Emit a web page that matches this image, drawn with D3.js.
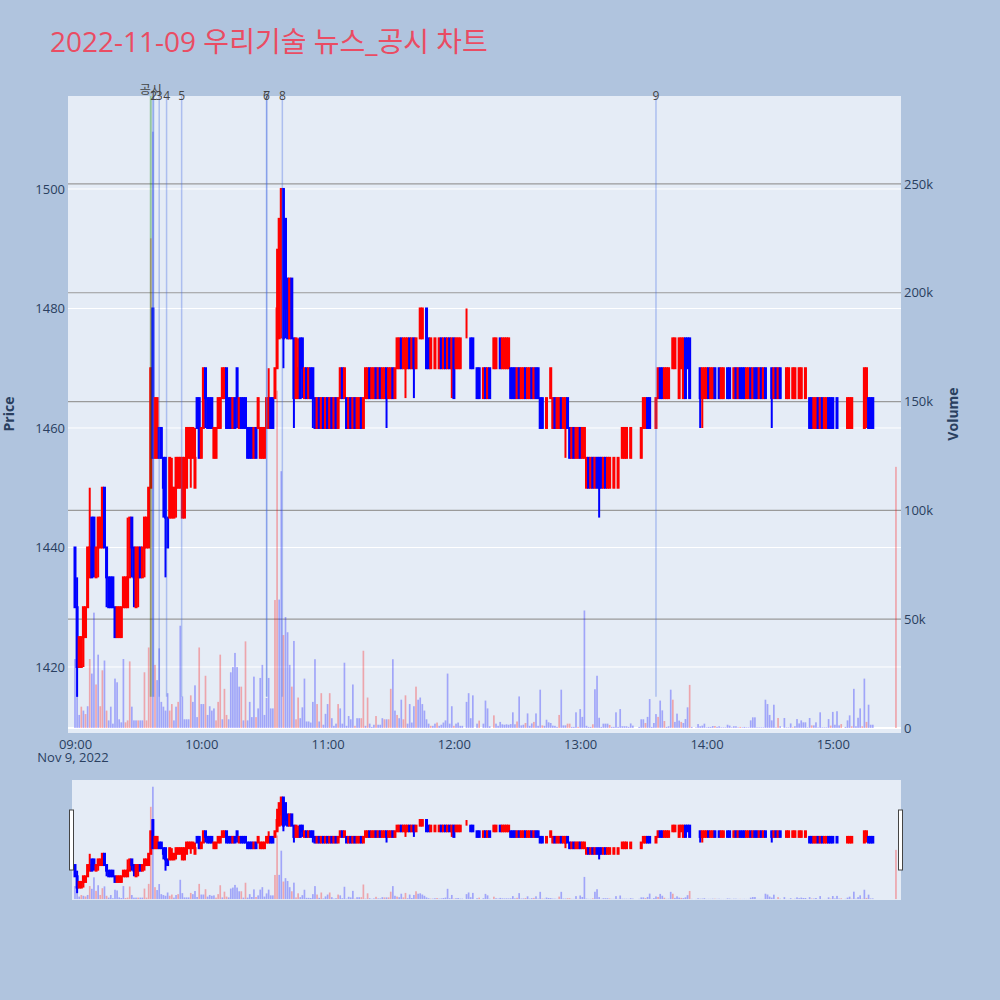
<!DOCTYPE html>
<html>
<head>
<meta charset="utf-8">
<script src="https://cdn.jsdelivr.net/npm/d3@7"></script>
<style>
  body { margin: 0; background: #b0c4de; }
  svg { display: block; font-family: "Open Sans", "Noto Sans CJK KR", sans-serif; }
</style>
</head>
<body>
<svg id="chart" width="1000" height="1000"></svg>
<script>
// one bar per minute from 09:00 (index 0) to 15:30 (index 390), null = no trade
const opens = [
  1440,1430,1420,1420,1425,1425,1430,1435,1445,1445, 1435,1440,1440,1440,1450,1440,1435,1435,1435,1430,
  1425,1425,1425,1430,1430,1430,1435,1445,1440,1430, 1435,1440,1435,1440,1440,1440,1450,1480,1455,1455,
  1460,1460,1455,1455,1445,1445,1445,1445,1450,1450, 1450,1445,1445,1450,1455,1455,1455,1450,1465,1465,
  1455,1460,1470,1465,1465,1465,1455,1455,1460,1460, 1465,1465,1470,1465,1465,1460,1465,1470,1460,1465,
  1465,1465,1460,1460,1460,1455,1460,1460,1455,1455, 1455,1460,1460,1465,1465,1465,1470,1475,1485,1500,
  1495,1485,1475,1485,1475,1465,1465,1475,1475,1465, 1470,1465,1470,1470,1465,1460,1465,1460,1465,1460,
  1465,1460,1465,1460,1465,1460,1465,1470,1465,1465, 1460,1465,1460,1465,1460,1460,1465,1460,1465,1465,
  1470,1465,1465,1470,1465,1470,1465,1465,1470,1465, 1465,1470,1465,1470,1470,1475,1470,1470,1470,1475,
  1470,1475,1470,1475,1475,1475,1480,1480,1475,1470, 1475,1470,1475,1470,1475,1470,1475,1470,1475,1470,
  1475,1470,1470,1470,1475,null,1475,1475,1475,1475, null,1470,1470,null,1465,1470,1465,1470,null,1470,
  1470,1470,1475,1470,1470,1470,1470,1470,1470,1470, 1465,1470,1465,1465,1470,1465,1465,1470,1465,1470,
  1470,1465,1465,1465,1460,1465,1465,1460,1465,1460, 1460,1465,1460,1460,1465,1460,1455,1460,1455,1455,
  1460,1455,1455,1450,1455,1450,1455,1450,1455,1455, 1455,1450,1455,1450,1450,1455,1450,1455,1450,1455,
  1455,1455,1455,1460,1455,1460,1460,1460,1460,1455, 1460,1460,1465,1465,1465,1465,1460,1465,1470,1470,
  1465,1465,1465,1470,1470,1470,1475,1465,1470,1465, 1475,1475,1475,1470,1470,1470,1470,1470,1465,1465,
  1465,1470,1465,1465,1470,1470,1470,1465,1465,1470, 1470,1470,1465,1465,1470,1465,1470,1470,1470,1465,
  1465,1470,1465,1470,1470,1465,1470,1465,1470,1465, 1465,1470,1465,1470,1465,1470,null,1470,1465,1465,
  1465,1465,1465,1465,1465,1465,1465,1465,1465,1465, 1465,1460,1460,1465,1460,1465,1460,1460,1465,1465,
  1465,1460,1465,1465,1465,null,1465,1460,1460,1460, 1465,1465,1465,1465,1465,1460,1465,1465,1465,1465,
  null,null,null,null,null,null,null,null,null,null, 1470
];
const highs = [
  1440,1435,1425,1425,1430,1430,1440,1450,1445,1445, 1440,1445,1445,1450,1450,1440,1435,1435,1435,1430,
  1430,1430,1430,1435,1435,1445,1445,1445,1440,1440, 1440,1440,1440,1445,1445,1450,1470,1480,1465,1465,
  1460,1460,1455,1455,1445,1455,1455,1450,1455,1455, 1455,1455,1455,1460,1460,1460,1460,1460,1465,1465,
  1460,1470,1470,1465,1465,1465,1460,1460,1465,1465, 1470,1470,1470,1465,1465,1465,1465,1470,1465,1465,
  1465,1465,1460,1460,1460,1460,1460,1465,1460,1460, 1460,1465,1470,1465,1465,1470,1490,1495,1500,1500,
  1495,1485,1485,1485,1475,1475,1475,1475,1475,1470, 1470,1470,1470,1470,1465,1465,1465,1465,1465,1465,
  1465,1465,1465,1465,1465,1465,1470,1470,1470,1465, 1465,1465,1465,1465,1465,1465,1465,1465,1470,1470,
  1470,1470,1470,1470,1470,1470,1470,1470,1470,1470, 1470,1470,1470,1475,1475,1475,1475,1475,1475,1475,
  1475,1475,1475,1475,1480,1480,1480,1480,1475,1475, 1475,1475,1475,1475,1475,1475,1475,1475,1475,1475,
  1475,1475,1475,1475,1475,null,1480,1475,1475,1475, null,1470,1470,null,1470,1470,1470,1470,null,1475,
  1475,1470,1475,1475,1475,1475,1475,1470,1470,1470, 1470,1470,1470,1470,1470,1470,1470,1470,1470,1470,
  1470,1465,1465,1465,1465,1465,1470,1465,1465,1465, 1465,1465,1465,1465,1465,1460,1460,1460,1460,1460,
  1460,1460,1460,1455,1455,1455,1455,1455,1455,1455, 1455,1455,1455,1455,1455,1455,1455,1455,1455,1455,
  1460,1460,1460,1460,1460,1460,1460,1460,1460,1460, 1465,1465,1465,1465,1465,1465,1465,1470,1470,1470,
  1470,1470,1470,1470,1475,1475,1475,1475,1475,1475, 1475,1475,1475,1470,1470,1470,1470,1470,1470,1470,
  1470,1470,1470,1470,1470,1470,1470,1470,1470,1470, 1470,1470,1465,1470,1470,1470,1470,1470,1470,1470,
  1470,1470,1470,1470,1470,1470,1470,1470,1470,1465, 1465,1470,1470,1470,1470,1470,null,1470,1470,1470,
  1465,1470,1470,1465,1470,1470,1465,1470,1465,1465, 1465,1465,1465,1465,1465,1465,1465,1465,1465,1465,
  1465,1460,1465,1465,1465,null,1465,1465,1465,1465, 1465,1465,1465,1465,1465,1470,1470,1465,1465,1465,
  null,null,null,null,null,null,null,null,null,null, 1470
];
const lows = [
  1430,1415,1420,1420,1420,1425,1430,1435,1435,1435, 1435,1435,1440,1440,1440,1430,1430,1430,1430,1425,
  1425,1425,1425,1430,1430,1430,1435,1435,1430,1430, 1430,1435,1435,1435,1440,1440,1450,1455,1455,1455,
  1455,1455,1445,1435,1440,1445,1445,1445,1445,1450, 1450,1445,1445,1450,1455,1450,1455,1450,1460,1455,
  1455,1460,1460,1460,1460,1460,1455,1455,1460,1460, 1465,1465,1460,1460,1460,1460,1460,1460,1460,1460,
  1460,1460,1455,1455,1455,1455,1455,1460,1455,1455, 1455,1460,1460,1460,1460,1465,1470,1475,1475,1470,
  1475,1475,1475,1475,1460,1465,1465,1465,1465,1465, 1465,1465,1465,1460,1460,1460,1460,1460,1460,1460,
  1460,1460,1460,1460,1460,1460,1465,1465,1465,1460, 1460,1460,1460,1460,1460,1460,1460,1460,1465,1465,
  1465,1465,1465,1465,1465,1465,1465,1465,1460,1465, 1465,1465,1465,1470,1470,1470,1470,1465,1470,1470,
  1470,1465,1470,1475,1475,1475,1480,1470,1470,1470, 1475,1470,1475,1470,1470,1470,1470,1470,1470,1465,
  1465,1470,1470,1470,1475,null,1475,1475,1470,1470, null,1465,1465,null,1465,1465,1465,1465,null,1470,
  1470,1470,1470,1470,1470,1470,1470,1465,1465,1465, 1465,1465,1465,1465,1465,1465,1465,1465,1465,1465,
  1465,1460,1460,1465,1460,1465,1465,1460,1460,1460, 1460,1460,1460,1455,1460,1455,1455,1455,1455,1455,
  1455,1455,1455,1450,1450,1450,1450,1450,1450,1445, 1450,1450,1450,1450,1450,1455,1450,1455,1450,1455,
  1455,1455,1455,1460,1455,1460,1460,1460,1460,1455, 1460,1460,1460,1460,1465,1465,1460,1465,1465,1465,
  1465,1465,1465,1470,1470,1470,1475,1465,1470,1465, 1465,1470,1465,1470,1470,1470,1470,1460,1460,1465,
  1465,1465,1465,1465,1465,1470,1465,1465,1465,1470, 1465,1465,1465,1465,1465,1465,1465,1465,1465,1465,
  1465,1465,1465,1465,1465,1465,1465,1465,1465,1465, 1465,1460,1465,1465,1465,1465,null,1470,1465,1465,
  1465,1465,1465,1465,1465,1465,1465,1465,1465,1460, 1460,1460,1460,1460,1460,1460,1460,1460,1460,1460,
  1460,1460,1460,1465,1465,null,1465,1460,1460,1460, 1465,1465,1465,1465,1465,1460,1460,1460,1460,1460,
  null,null,null,null,null,null,null,null,null,null, 1470
];
const closes = [
  1430,1420,1425,1425,1430,1430,1440,1440,1435,1440, 1440,1445,1445,1450,1440,1435,1430,1430,1430,1425,
  1430,1430,1430,1435,1435,1435,1445,1440,1435,1440, 1440,1435,1440,1445,1445,1450,1470,1455,1465,1465,
  1455,1455,1450,1445,1440,1455,1450,1450,1455,1455, 1455,1455,1455,1460,1460,1460,1460,1455,1460,1455,
  1460,1470,1465,1460,1460,1460,1460,1460,1465,1465, 1470,1470,1460,1460,1460,1465,1460,1465,1465,1460,
  1460,1460,1455,1455,1455,1460,1455,1465,1460,1460, 1460,1465,1465,1460,1460,1470,1480,1495,1500,1475,
  1480,1475,1485,1475,1465,1475,1470,1465,1470,1470, 1465,1470,1465,1465,1460,1465,1460,1465,1460,1465,
  1460,1465,1460,1465,1460,1465,1470,1465,1470,1460, 1465,1460,1465,1460,1465,1465,1460,1465,1470,1470,
  1465,1470,1470,1465,1470,1465,1470,1470,1465,1470, 1470,1465,1470,1475,1475,1470,1475,1475,1475,1470,
  1475,1470,1475,1475,1480,1480,1480,1470,1470,1475, 1475,1475,1475,1475,1470,1475,1470,1475,1470,1475,
  1465,1475,1475,1475,1475,null,1475,1475,1470,1470, null,1465,1465,null,1470,1465,1470,1465,null,1475,
  1475,1470,1470,1475,1475,1475,1475,1465,1465,1465, 1470,1465,1470,1470,1465,1470,1470,1465,1470,1465,
  1465,1460,1460,1465,1465,1465,1470,1465,1460,1465, 1465,1460,1465,1465,1460,1455,1460,1455,1460,1460,
  1455,1460,1460,1455,1450,1455,1450,1455,1450,1450, 1450,1455,1450,1455,1455,1455,1455,1455,1455,1455,
  1460,1460,1460,1460,1460,1460,1460,1460,1460,1460, 1465,1465,1460,1460,1465,1465,1465,1470,1465,1465,
  1470,1470,1470,1470,1475,1475,1475,1475,1475,1475, 1465,1470,1465,1470,1470,1470,1470,1465,1470,1470,
  1470,1465,1470,1470,1465,1470,1465,1470,1470,1470, 1465,1465,1465,1470,1465,1470,1465,1465,1465,1470,
  1470,1465,1470,1465,1465,1470,1465,1470,1465,1465, 1465,1465,1470,1465,1470,1465,null,1470,1470,1470,
  1465,1470,1470,1465,1470,1470,1465,1470,1465,1460, 1460,1465,1465,1460,1465,1460,1465,1465,1460,1460,
  1460,1460,1460,1465,1465,null,1465,1465,1465,1465, 1465,1465,1465,1465,1465,1470,1470,1460,1460,1460,
  null,null,null,null,null,null,null,null,null,null, 1470
];
// volume per minute, thousands of shares
const volumes = [
  31.7,39,6,9.8,8,6.4,10,31.7,25,53, 20,33.7,10,26.5,31,8,3.5,9.8,2,22.7,
  21,4,2.6,31.7,2.6,3.5,30.6,9.8,3.5,3.5, 3.5,3.5,3.5,25.6,3.5,37,225,274,29,22,
  36.6,12,9.8,8,16,8,11,3.5,9.8,12, 47,14.5,4,4,4,15,12,19.6,5,37,
  11,11,24,6,10,8,9,3.5,12,33.7, 4,18,6,4,25.6,28,34.5,28,19,19,
  3.5,39.8,3.5,12,5,23.6,5,9,23,29, 6,13.8,23,9,9,58.8,155,59,118,42.7,
  51,44,29,19,40,4,14,4.5,9.5,22.7, 3,3,2.5,12,31.6,11,3,16,1.5,6.5,
  11,16,4.5,1,2,11,9,2,30,1, 5.5,4,20,1,4.5,4.5,4.5,35.5,1,14,
  2,0.5,1.5,5.5,1.5,1.5,4.5,4,4,4, 18,31.6,8,6,4.5,13,4,15,2,11,
  2.5,10,19,13,14,11,8,4,2,1, 1,2,2.5,1,1.5,2.5,3.5,25,2,10,
  1,2,2.5,1,1,0,12,16,4.5,15, 0,2,3.4,0,2,12.6,9,0.8,0,5.8,
  2,1,2.8,1.7,1.5,1.7,1.5,1.8,7.2,1.7, 3,14.5,1.2,1.5,2.3,6.7,1,2.1,2.8,6.7,
  1,17.6,1.2,1,3.8,2.6,2.3,1.1,1,0.5, 6,17.6,1.2,1.2,2,2,0.5,0.5,7.2,0.5,
  8.7,5.1,54,1,0.5,0.5,1.7,17.8,24,4.7, 0.5,2,2,2,1.4,0.5,0.5,7.2,0.5,8.7,
  0.8,0.8,0.8,0.5,2.1,1.1,0,0,0.5,4, 4,2.3,5.1,13.3,0.5,2.3,6.4,5.1,12.6,8.1,
  3.2,0.5,0.8,17.6,13,2.8,6.6,3.4,2.8,2.3, 4.1,9.5,19.8,0.5,0,0.3,1.8,0.8,1.1,2,
  0.3,0.5,0.5,0.9,0.9,0.5,0.8,0.3,0.3,0.3, 1.5,1.1,0.3,0.8,0.8,0.3,0.5,0.3,0.5,0.3,
  0.3,3.5,4.9,4.9,0.3,0.3,0.3,0.3,13,11, 6,3.5,10.7,0.3,4.6,0.8,0,4.6,0.3,0.3,
  2.1,0.3,0.8,4.1,2.1,3.5,2.6,2.6,0.3,4.6, 1.2,1.2,2.6,0.3,7.2,0.3,0.3,0.3,4.1,1.1,
  7.4,1.5,7.7,1.2,1.8,0,0.5,3.5,5.8,0.8, 18,0.8,4.7,9,0.8,22.7,2.8,10.7,1.5,1.5,
  0,0,0,0,0,0,0,0,0,0, 120
];
// minutes whose volume bar is drawn red
const redVolumeMinutes = [3,5,7,10,12,13,15,24,25,26,30,33,34,35,36,38,45,46,49,55,59,62,67,68,69,71,72,79,81,86,
  95,96,99,103,105,106,115,117,121,125,133,136,137,139,143,147,149,150,153,156,157,162,169,172,180,192,199,
  210,214,218,222,230,234,235,239,246,254,271,277,280,284,288,292,304,316,334,341,350,359,364,369,374,376,390];

const disclosureTimes = ["09:36:00"];
const newsLabels = ["1","2","3","4","5","6","7","8","9"];
const newsTimes = ["09:37:00","09:37:20","09:40:00","09:43:30","09:50:40","10:31:00","10:31:05","10:38:30","13:36:00"];

const priceTicks = [1420, 1440, 1460, 1480, 1500];
const volumeTicks = [0, 50000, 100000, 150000, 200000, 250000];
const volumeTickLabels = ["0", "50k", "100k", "150k", "200k", "250k"];
const timeTicks = ["09:00","10:00","11:00","12:00","13:00","14:00","15:00"];

const plot = {left: 68, right: 901, top: 96, bottom: 733},
slider = {left: 72, right: 901, top: 780, bottom: 900},
upColor = "#ff0000",
downColor = "#0000ff",
fontColor = "#2a3f5f";

const parseClock = s => {
  let p = s.split(":").map(Number);
  return new Date(2022, 10, 9, p[0], p[1], p[2] || 0);
};
const dayStart = parseClock("09:00");
const minuteDate = m => new Date(dayStart.getTime() + m * 60000);

let bars = opens.map((o, i) => ({
  t: minuteDate(i), o: o, h: highs[i], l: lows[i], c: closes[i],
  v: volumes[i] * 1000, redVol: redVolumeMinutes.includes(i)
}));

// flat bars take their colour from the move against the previous close
let prevClose = null, prevUp = true;
bars.forEach(d => {
  if (d.o == null) return;
  let up;
  if (d.c > d.o) up = true;
  else if (d.c < d.o) up = false;
  else if (prevClose != null && d.c !== prevClose) up = d.c > prevClose;
  else up = prevUp;
  d.up = up;
  prevUp = up;
  prevClose = d.c;
});
let candles = bars.filter(d => d.o != null);

const x = d3.scaleTime()
  .domain([minuteDate(-3.325), minuteDate(392.4)])
  .range([plot.left, plot.right]);
const yPrice = d3.scaleLinear().domain([1408.95, 1515.56]).range([plot.bottom, plot.top]);
const yVol = d3.scaleLinear().domain([-2300, 290400]).range([plot.bottom, plot.top]);
const yPriceS = yPrice.copy().range([slider.bottom, slider.top]);
const yVolS = yVol.copy().range([slider.bottom, slider.top]);

const svg = d3.select("#chart");

svg.append("rect").attr("width", 1000).attr("height", 1000).attr("fill", "#b0c4de");

svg.append("text")
  .attr("x", 50).attr("y", 52)
  .attr("fill", "#ea4c63")
  .attr("font-size", 28)
  .text("2022-11-09 우리기술 뉴스_공시 차트");

svg.append("rect")
  .attr("x", plot.left).attr("y", plot.top)
  .attr("width", plot.right - plot.left).attr("height", plot.bottom - plot.top)
  .attr("fill", "#e5ecf6");

svg.append("clipPath").attr("id", "plotClip")
  .append("rect")
  .attr("x", plot.left).attr("y", plot.top)
  .attr("width", plot.right - plot.left).attr("height", plot.bottom - plot.top);

// grid lines
svg.append("g").selectAll("line")
  .data(priceTicks)
  .join("line")
  .attr("x1", plot.left).attr("x2", plot.right)
  .attr("y1", d => yPrice(d)).attr("y2", d => yPrice(d))
  .attr("stroke", "#ffffff").attr("stroke-width", 1);

svg.append("g").selectAll("line")
  .data(volumeTicks.slice(1))
  .join("line")
  .attr("x1", plot.left).attr("x2", plot.right)
  .attr("y1", d => yVol(d)).attr("y2", d => yVol(d))
  .attr("stroke", "#9a9a9a").attr("stroke-width", 1.2);

svg.append("line")
  .attr("x1", plot.left).attr("x2", plot.right)
  .attr("y1", yVol(0)).attr("y2", yVol(0))
  .attr("stroke", "#ffffff").attr("stroke-width", 2);

function drawVolume(g, yv) {
  g.selectAll("rect")
    .data(bars.filter(d => d.v > 0))
    .join("rect")
    .attr("x", d => x(d.t) - 0.84)
    .attr("width", 1.68)
    .attr("y", d => yv(d.v))
    .attr("height", d => yv(0) - yv(d.v))
    .attr("fill", d => d.redVol ? upColor : downColor)
    .attr("fill-opacity", 0.3);
}

function drawCandles(g, yp) {
  let c = g.selectAll("g")
    .data(candles)
    .join("g")
    .attr("stroke", d => d.up ? upColor : downColor)
    .attr("fill", d => d.up ? upColor : downColor)
    .attr("stroke-width", 2);

  c.append("line")
    .attr("x1", d => x(d.t)).attr("x2", d => x(d.t))
    .attr("y1", d => yp(d.h)).attr("y2", d => yp(d.l));

  c.append("rect")
    .attr("x", d => x(d.t) - 0.5)
    .attr("width", 1)
    .attr("y", d => yp(Math.max(d.o, d.c)))
    .attr("height", d => Math.abs(yp(d.o) - yp(d.c)));
}

let main = svg.append("g").attr("clip-path", "url(#plotClip)");
drawVolume(main.append("g"), yVol);
drawCandles(main.append("g"), yPrice);

// news / disclosure markers
let lineBottom = yPrice(1415);

svg.append("g").selectAll("line")
  .data(disclosureTimes)
  .join("line")
  .attr("x1", d => x(parseClock(d))).attr("x2", d => x(parseClock(d)))
  .attr("y1", plot.top).attr("y2", lineBottom)
  .attr("stroke", "green").attr("stroke-opacity", 0.35).attr("stroke-width", 2);

svg.append("g").selectAll("line")
  .data(newsTimes)
  .join("line")
  .attr("x1", d => x(parseClock(d))).attr("x2", d => x(parseClock(d)))
  .attr("y1", plot.top).attr("y2", lineBottom)
  .attr("stroke", "royalblue").attr("stroke-opacity", 0.35).attr("stroke-width", 1.5);

svg.append("g").selectAll("text")
  .data(newsTimes)
  .join("text")
  .attr("x", d => x(parseClock(d)))
  .attr("y", 100)
  .attr("text-anchor", "middle")
  .attr("font-size", 12)
  .attr("fill", "#444")
  .text((d, i) => newsLabels[i]);

svg.append("text")
  .attr("x", x(parseClock(disclosureTimes[0])))
  .attr("y", 94)
  .attr("text-anchor", "middle")
  .attr("font-size", 12)
  .attr("fill", "#444")
  .text("공시");

// axes
let axisLeft = svg.append("g")
  .attr("transform", "translate(" + plot.left + ",0)")
  .call(d3.axisLeft(yPrice).tickValues(priceTicks).tickSize(0).tickPadding(3)
    .tickFormat(d3.format("d")));

let axisRight = svg.append("g")
  .attr("transform", "translate(" + plot.right + ",0)")
  .call(d3.axisRight(yVol).tickValues(volumeTicks).tickSize(0).tickPadding(3)
    .tickFormat((d, i) => volumeTickLabels[i]));

let axisBottom = svg.append("g")
  .attr("transform", "translate(0," + plot.bottom + ")")
  .call(d3.axisBottom(x).tickValues(timeTicks.map(parseClock))
    .tickSize(0).tickPadding(7).tickFormat(d3.timeFormat("%H:%M")));

[axisLeft, axisRight, axisBottom].forEach(a => {
  a.select(".domain").remove();
  a.selectAll("text")
    .attr("fill", fontColor)
    .attr("font-size", 13)
    .attr("font-family", "'Open Sans', sans-serif");
});

svg.append("text")
  .attr("x", x(dayStart) - 2).attr("y", 762)
  .attr("text-anchor", "middle")
  .attr("font-size", 13)
  .attr("fill", fontColor)
  .text("Nov 9, 2022");

svg.append("text")
  .attr("transform", "translate(14,414) rotate(-90)")
  .attr("text-anchor", "middle")
  .attr("font-size", 14)
  .attr("font-weight", "bold")
  .attr("fill", fontColor)
  .text("Price");

svg.append("text")
  .attr("transform", "translate(958,414) rotate(-90)")
  .attr("text-anchor", "middle")
  .attr("font-size", 14)
  .attr("font-weight", "bold")
  .attr("fill", fontColor)
  .text("Volume");

// range slider
svg.append("rect")
  .attr("x", slider.left).attr("y", slider.top)
  .attr("width", slider.right - slider.left).attr("height", slider.bottom - slider.top)
  .attr("fill", "#e5ecf6");

svg.append("clipPath").attr("id", "sliderClip")
  .append("rect")
  .attr("x", slider.left).attr("y", slider.top)
  .attr("width", slider.right - slider.left).attr("height", slider.bottom - slider.top);

let mini = svg.append("g").attr("clip-path", "url(#sliderClip)");
drawVolume(mini.append("g"), yVolS);
drawCandles(mini.append("g"), yPriceS);

svg.append("g").selectAll("rect")
  .data([slider.left, slider.right])
  .join("rect")
  .attr("x", d => d - 2.5)
  .attr("y", 810)
  .attr("width", 4)
  .attr("height", 60)
  .attr("fill", "#ffffff")
  .attr("stroke", "#444")
  .attr("stroke-width", 1);
</script>
</body>
</html>
